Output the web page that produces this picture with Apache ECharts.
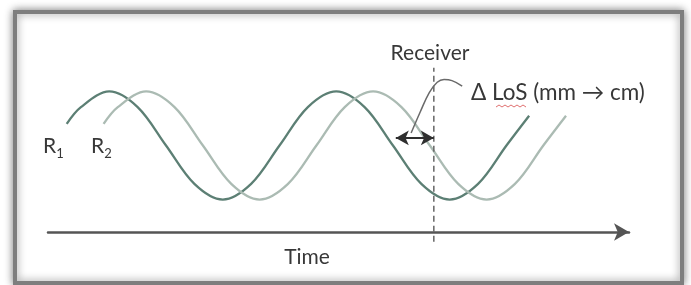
<!DOCTYPE html>
<html>
<head>
<meta charset="utf-8">
<script src="https://cdn.jsdelivr.net/npm/echarts@6/dist/echarts.min.js"></script>
<style>
  html, body { margin: 0; padding: 0; background: #fff; }
  #chart { width: 691px; height: 285px; }
</style>
</head>
<body>
<div id="chart"></div>
<script>
// time in quarter-periods, level in amplitude units
var r1Time = [0.33, 0.58, 1.08, 1.58, 2.08, 2.58, 3.08, 3.58, 4.08, 4.58, 5.08, 5.58, 6.08, 6.58, 7.08, 7.58, 8.08, 8.48];
var r1Level = [0.40, 0.71, 1, 0.71, 0, -0.71, -1, -0.71, 0, 0.71, 1, 0.71, 0, -0.71, -1, -0.71, 0, 0.55];
var r2Time = [0.98, 1.23, 1.73, 2.23, 2.73, 3.23, 3.73, 4.23, 4.73, 5.23, 5.73, 6.23, 6.73, 7.23, 7.73, 8.23, 8.73, 9.13];
var r2Level = [0.40, 0.71, 1, 0.71, 0, -0.71, -1, -0.71, 0, 0.71, 1, 0.71, 0, -0.71, -1, -0.71, 0, 0.55];

var receiverTime = [6.80, 6.80];
var receiverLevel = [-1.78, 1.44];
var deltaTime = [6.13, 6.80];
var deltaLevel = 0.14;
var leaderTime = [6.40, 6.56, 6.72, 6.86, 6.98, 7.12, 7.30];
var leaderLevel = [0.23, 0.62, 0.98, 1.17, 1.22, 1.20, 1.10];

function pairs(xs, ys) {
    return xs.map(function (x, i) { return [x, ys[i]]; });
}

var textColor = '#383838';
var font = 'Lato, "Open Sans", sans-serif';
var subRich = {
    r: { fontSize: 21, fontFamily: font, lineHeight: 28, fill: textColor },
    s: { fontSize: 13, fontFamily: font, lineHeight: 12, verticalAlign: 'bottom', fill: textColor }
};

var chart = echarts.init(document.getElementById('chart'));
chart.setOption({
    animation: false,
    backgroundColor: '#fff',
    grid: { left: 48, right: 62, top: 59, bottom: 53 },
    xAxis: {
        type: 'value',
        min: 0,
        max: 10.24,
        axisLine: {
            show: true,
            onZero: false,
            symbol: ['none', 'arrow'],
            symbolSize: [13, 15],
            lineStyle: { color: '#555', width: 2.5 }
        },
        axisTick: { show: false },
        axisLabel: { show: false },
        splitLine: { show: false }
    },
    yAxis: {
        type: 'value',
        min: -1.6,
        max: 1.6,
        show: false,
        splitLine: { show: false }
    },
    graphic: [
        {
            type: 'rect',
            z: -10,
            shape: { x: 15, y: 12, width: 667, height: 271 },
            style: {
                fill: '#fff',
                stroke: '#7e7e7e',
                lineWidth: 4,
                shadowBlur: 8,
                shadowColor: 'rgba(0,0,0,0.45)'
            }
        },
        {
            type: 'text',
            x: 43, y: 132,
            style: { text: '{r|R}{s|1}', fill: textColor, rich: subRich }
        },
        {
            type: 'text',
            x: 91, y: 132,
            style: { text: '{r|R}{s|2}', fill: textColor, rich: subRich }
        },
        {
            type: 'text',
            x: 307, y: 257,
            style: {
                text: 'Time',
                fill: textColor,
                font: '21px ' + font,
                align: 'center',
                verticalAlign: 'middle'
            }
        },
        {
            type: 'text',
            x: 430, y: 53,
            style: {
                text: 'Receiver',
                fill: textColor,
                font: '21px ' + font,
                align: 'center',
                verticalAlign: 'middle'
            }
        },
        {
            type: 'text',
            x: 471, y: 93,
            style: {
                text: 'Δ LoS (mm → cm)',
                fill: textColor,
                font: '22.5px ' + font,
                align: 'left',
                verticalAlign: 'middle'
            }
        },
        {
            type: 'polyline',
            shape: {
                points: [[496, 107], [499, 105], [502, 107], [505, 105], [508, 107], [511, 105], [514, 107], [517, 105], [520, 107], [523, 105], [526, 107]]
            },
            style: { stroke: '#e07070', lineWidth: 1, fill: null }
        }
    ],
    series: [
        {
            name: 'R1',
            type: 'line',
            smooth: 0.34,
            symbol: 'none',
            clip: false,
            data: pairs(r1Time, r1Level),
            lineStyle: { color: '#5c7f74', width: 2.3 },
            markLine: {
                silent: true,
                symbol: ['arrow', 'arrow'],
                symbolSize: [11, 13],
                label: { show: false },
                lineStyle: { color: '#2f2f2f', width: 2, type: 'solid' },
                data: [[
                    { coord: [deltaTime[0], deltaLevel] },
                    { coord: [deltaTime[1], deltaLevel] }
                ]]
            }
        },
        {
            name: 'R2',
            type: 'line',
            smooth: 0.34,
            symbol: 'none',
            clip: false,
            data: pairs(r2Time, r2Level),
            lineStyle: { color: '#abbbb3', width: 2.3 }
        },
        {
            name: 'Receiver',
            type: 'line',
            symbol: 'none',
            clip: false,
            data: pairs(receiverTime, receiverLevel),
            lineStyle: { color: '#666', width: 1.5, type: [6, 4] }
        },
        {
            name: 'leader',
            type: 'line',
            smooth: 0.4,
            symbol: 'none',
            clip: false,
            data: pairs(leaderTime, leaderLevel),
            lineStyle: { color: '#6a6a6a', width: 1.5 }
        }
    ]
});
</script>
</body>
</html>
